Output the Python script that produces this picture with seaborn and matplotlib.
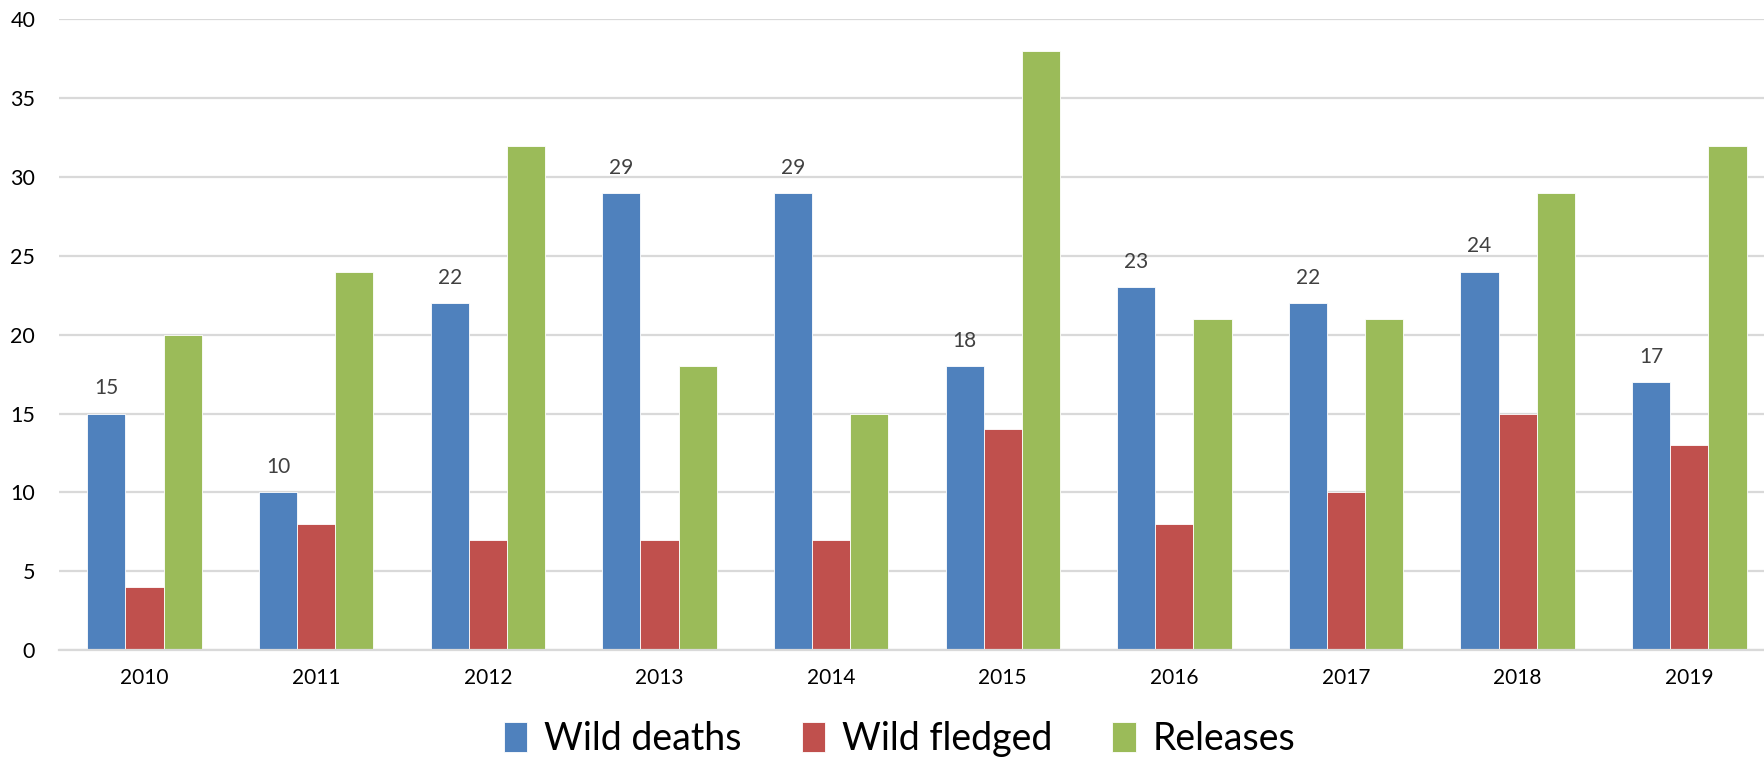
import matplotlib
matplotlib.use("Agg")
import matplotlib.pyplot as plt
import seaborn as sns
import pandas as pd

years = ["2010", "2011", "2012", "2013", "2014", "2015", "2016", "2017", "2018", "2019"]
wild_deaths = [15, 10, 22, 29, 29, 18, 23, 22, 24, 17]
wild_fledged = [4, 8, 7, 7, 7, 14, 8, 10, 15, 13]
releases = [20, 24, 32, 18, 15, 38, 21, 21, 29, 32]
series_names = ["Wild deaths", "Wild fledged", "Releases"]
colors = ["#4F81BD", "#C0504D", "#9BBB59"]

df = pd.DataFrame({
    "Year": years * 3,
    "Count": wild_deaths + wild_fledged + releases,
    "Series": [series_names[0]] * 10 + [series_names[1]] * 10 + [series_names[2]] * 10,
})

sns.set_theme(style="white")
plt.rcParams["font.family"] = ["Lato", "DejaVu Sans"]
plt.rcParams["text.color"] = "black"

fig = plt.figure(figsize=(17.64, 7.58), dpi=100)
ax = fig.add_axes([0.0333, 0.1425, 0.973, 0.8318])

sns.barplot(data=df, x="Year", y="Count", hue="Series", hue_order=series_names,
            palette=colors, width=0.667, saturation=1, ax=ax,
            edgecolor="white", linewidth=0.6, legend=True)

ax.set_ylim(0, 40)
ax.set_yticks(range(0, 41, 5))
ax.yaxis.grid(True, color="#D9D9D9", linewidth=1.6)
ax.set_axisbelow(True)
for side in ["top", "right", "left"]:
    ax.spines[side].set_visible(False)
ax.spines["bottom"].set_color("#D9D9D9")
ax.spines["bottom"].set_linewidth(1.6)
ax.set_xlabel("")
ax.set_ylabel("")
ax.tick_params(axis="y", length=0, pad=17, labelsize=15.5, labelcolor="black")
ax.tick_params(axis="x", length=0, pad=13, labelsize=15, labelcolor="black")

# value labels on the Wild deaths bars
ax.bar_label(ax.containers[0], labels=[str(v) for v in wild_deaths],
             padding=11, fontsize=15, color="#404040")

handles, labels = ax.get_legend_handles_labels()
ax.get_legend().remove()
fig.legend(handles, labels, loc="center", bbox_to_anchor=(0.51, 0.025),
           ncol=3, frameon=False, handlelength=0.62, handleheight=0.85,
           handletextpad=0.45, columnspacing=1.6, labelcolor="black",
           prop={"family": ["Lato", "DejaVu Sans"], "size": 27})

fig.savefig("out.png", dpi=100)
